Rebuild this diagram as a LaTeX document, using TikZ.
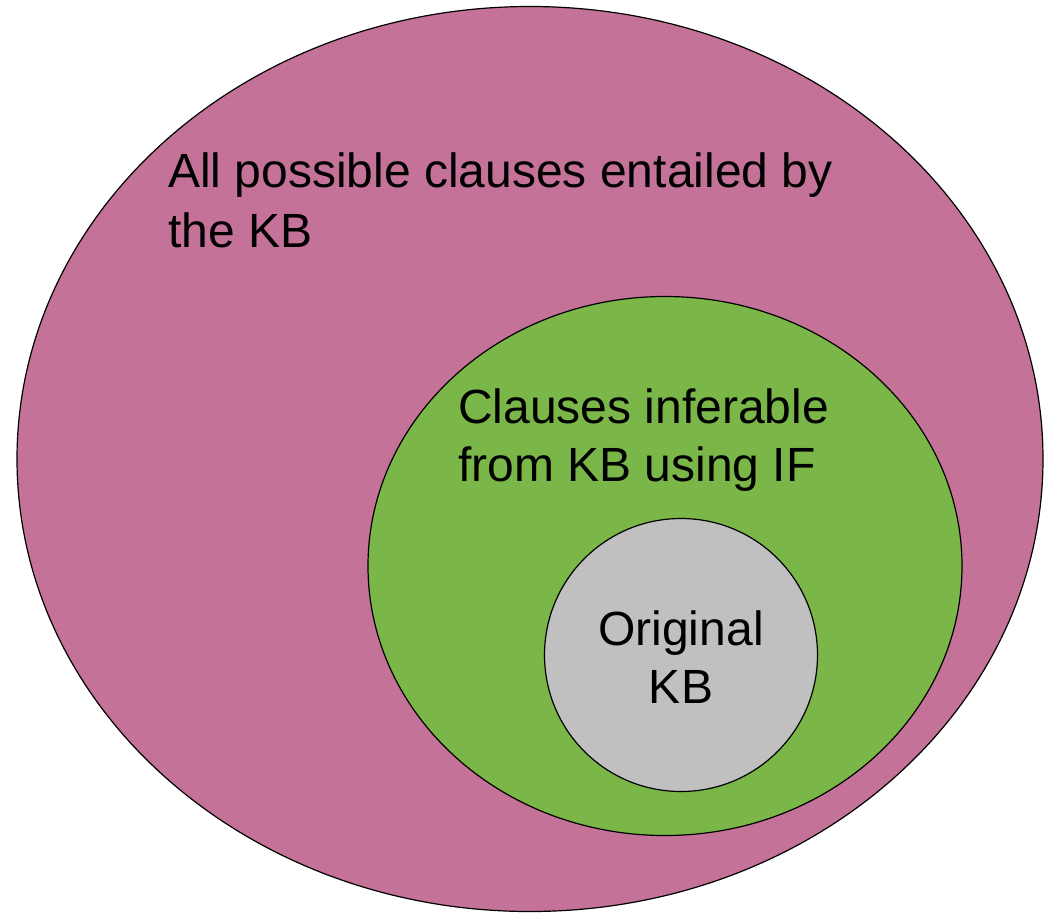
\documentclass[tikz,border=0pt]{standalone}
\usepackage{fontspec}
\setmainfont{Liberation Sans}
\usetikzlibrary{shapes.geometric}
\definecolor{entailcol}{HTML}{C47297}
\definecolor{infercol}{HTML}{7AB648}
\definecolor{kbcol}{HTML}{C0C0C0}

\begin{document}
\begin{tikzpicture}[x=1pt, y=-1pt,
  every node/.style = {inner sep=0pt},
  setbox/.style = {shape=ellipse, draw=black, line width=1.2pt},
  label/.style = {font=\fontsize{48}{58}\selectfont, align=left}]
  \useasboundingbox (0,0) rectangle (1047,914);
  \node[setbox, fill=entailcol, minimum width=1026pt, minimum height=905pt] (entailed) at (530,459) {};
  \node[setbox, fill=infercol, minimum width=594pt, minimum height=539pt] (inferable) at (665,566) {};
  \node[setbox, shape=circle, fill=kbcol, minimum size=273pt] (original) at (681,655) {};
  \node[label, font=\fontsize{48}{60}\selectfont, anchor=north west] (entailedtext) at (168,153)
    {All possible clauses entailed by\\the KB};
  \node[label, anchor=north west] (inferabletext) at (458,389)
    {Clauses inferable\\from KB using IF};
  \node[label, align=center, anchor=north] (originaltext) at (681,611)
    {Original\\KB};
\end{tikzpicture}
\end{document}
